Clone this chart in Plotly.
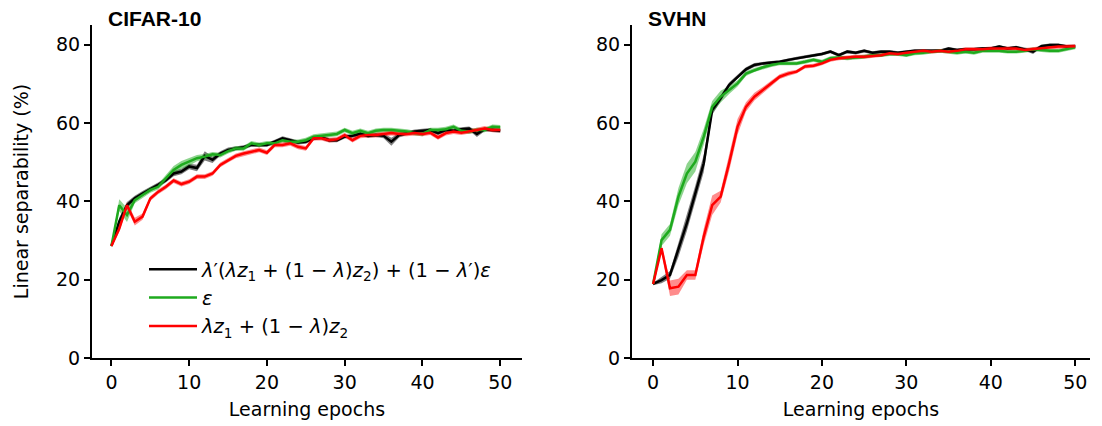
import plotly.graph_objects as go

epochs = list(range(51))

# CIFAR-10 (left panel)
cifar_mix = [28.6, 34.8, 39.0, 40.8, 42.0, 43.0, 44.2, 45.4, 47.1, 47.6,
             48.9, 48.5, 51.6, 50.6, 52.2, 53.1, 53.5, 53.8, 54.4, 54.4,
             54.4, 55.2, 56.1, 55.6, 55.0, 55.2, 56.1, 56.3, 55.6, 55.6,
             56.5, 56.7, 57.2, 56.7, 56.9, 56.7, 55.2, 56.9, 57.4, 57.8,
             58.0, 58.2, 57.4, 58.2, 58.0, 58.4, 58.6, 57.2, 58.4, 58.2, 58.0]
cifar_mix_sd = [0.3, 1.0, 0.8, 0.6, 0.6, 0.6, 0.6, 0.6, 0.7, 0.7,
                0.7, 0.8, 1.2, 0.8, 0.6, 0.6, 0.5, 0.5, 0.5, 0.5,
                0.5, 0.5, 0.5, 0.5, 0.5, 0.5, 0.5, 0.5, 0.5, 0.5,
                0.5, 0.5, 0.5, 0.5, 0.5, 0.6, 1.0, 0.6, 0.5, 0.5,
                0.5, 0.5, 0.5, 0.5, 0.5, 0.5, 0.5, 0.8, 0.5, 0.5, 0.5]
cifar_eps = [28.6, 39.0, 36.5, 40.3, 41.6, 42.9, 43.7, 45.9, 48.0, 49.3,
             50.1, 51.0, 51.4, 52.0, 51.8, 52.8, 53.5, 53.5, 54.8, 54.4,
             54.8, 54.8, 55.6, 55.2, 55.2, 55.6, 56.5, 56.7, 56.9, 57.2,
             58.2, 57.4, 58.0, 57.4, 58.0, 58.2, 58.2, 58.0, 57.8, 57.4,
             57.2, 58.2, 58.2, 58.4, 59.0, 58.0, 57.8, 58.2, 58.2, 59.0, 58.9]
cifar_eps_sd = [0.3, 1.5, 1.8, 0.8, 0.7, 0.7, 0.7, 0.8, 1.0, 1.0,
                1.0, 0.8, 0.7, 0.6, 0.6, 0.6, 0.6, 0.6, 0.6, 0.6,
                0.6, 0.6, 0.6, 0.6, 0.6, 0.6, 0.6, 0.6, 0.6, 0.6,
                0.6, 0.6, 0.6, 0.6, 0.6, 0.6, 0.6, 0.6, 0.6, 0.6,
                0.6, 0.6, 0.6, 0.6, 0.6, 0.6, 0.6, 0.6, 0.6, 0.6, 0.6]
cifar_lin = [28.6, 33.0, 39.0, 34.8, 36.1, 40.7, 42.4, 43.7, 45.3, 44.4,
             45.0, 46.3, 46.3, 47.1, 49.3, 50.5, 51.6, 52.2, 52.6, 53.1,
             52.4, 54.4, 54.4, 54.8, 53.9, 53.5, 56.1, 56.1, 55.6, 55.8,
             56.9, 55.6, 56.7, 56.9, 56.9, 57.2, 57.4, 57.2, 57.2, 57.4,
             57.2, 57.5, 56.3, 57.4, 57.8, 57.5, 57.8, 58.2, 58.6, 58.2, 58.2]
cifar_lin_sd = [0.3, 0.8, 0.8, 1.0, 0.8, 0.6, 0.6, 0.6, 0.6, 0.6,
                0.6, 0.6, 0.6, 0.6, 0.6, 0.6, 0.6, 0.6, 0.6, 0.6,
                0.6, 0.6, 0.6, 0.6, 0.6, 0.6, 0.6, 0.6, 0.6, 0.6,
                0.6, 0.6, 0.6, 0.6, 0.6, 0.6, 0.6, 0.6, 0.6, 0.6,
                0.6, 0.6, 0.6, 0.6, 0.6, 0.6, 0.6, 0.6, 0.6, 0.6, 0.6]

# SVHN (right panel)
svhn_mix = [18.9, 19.9, 21.2, 27.6, 34.4, 42.0, 49.7, 63.3, 66.3, 69.7,
            71.8, 73.7, 74.8, 75.2, 75.4, 75.6, 76.1, 76.5, 76.9, 77.3,
            77.6, 78.2, 77.3, 78.2, 77.9, 78.4, 77.9, 78.2, 78.2, 77.9,
            78.2, 78.4, 78.4, 78.4, 78.4, 79.0, 78.6, 78.8, 78.8, 79.0,
            79.0, 79.5, 79.0, 79.3, 78.8, 78.2, 79.6, 79.9, 79.9, 79.5, 79.6]
svhn_mix_sd = [0.3, 0.8, 1.0, 1.8, 2.0, 2.0, 2.2, 1.2, 0.8, 0.6,
               0.5, 0.5, 0.5, 0.4, 0.4, 0.4, 0.4, 0.4, 0.4, 0.4,
               0.4, 0.4, 0.4, 0.4, 0.4, 0.4, 0.4, 0.4, 0.4, 0.4,
               0.4, 0.4, 0.4, 0.4, 0.4, 0.4, 0.4, 0.4, 0.4, 0.4,
               0.4, 0.4, 0.4, 0.4, 0.4, 0.6, 0.4, 0.4, 0.4, 0.4, 0.4]
svhn_eps = [18.9, 30.1, 32.7, 41.2, 47.1, 50.1, 56.5, 64.1, 66.7, 68.4,
            70.1, 72.6, 73.5, 74.2, 74.8, 75.2, 75.2, 75.2, 75.6, 76.1,
            75.6, 76.5, 76.7, 76.5, 76.7, 76.9, 77.3, 77.3, 77.6, 77.6,
            77.3, 77.8, 77.9, 78.2, 78.4, 78.2, 77.9, 78.2, 77.9, 78.4,
            78.4, 78.4, 78.2, 78.2, 78.4, 78.8, 78.6, 78.4, 78.4, 78.8, 79.3]
svhn_eps_sd = [0.3, 1.5, 1.5, 2.2, 2.5, 2.5, 2.0, 1.5, 1.5, 1.0,
               0.8, 0.6, 0.5, 0.5, 0.5, 0.5, 0.5, 0.5, 0.5, 0.5,
               0.5, 0.5, 0.5, 0.5, 0.5, 0.5, 0.5, 0.5, 0.5, 0.5,
               0.5, 0.5, 0.5, 0.5, 0.5, 0.5, 0.5, 0.5, 0.5, 0.5,
               0.5, 0.5, 0.5, 0.5, 0.5, 0.5, 0.5, 0.5, 0.5, 0.5, 0.5]
svhn_lin = [18.9, 28.0, 17.8, 18.2, 21.2, 21.2, 31.0, 39.0, 41.2, 49.7,
            59.0, 64.1, 66.7, 68.4, 70.1, 71.8, 72.6, 73.1, 74.4, 74.6,
            75.2, 76.1, 76.5, 76.7, 76.9, 76.9, 77.1, 77.3, 77.8, 77.6,
            77.9, 78.2, 78.4, 78.2, 78.4, 78.2, 78.4, 78.8, 78.8, 78.8,
            79.0, 79.0, 79.0, 79.0, 78.6, 78.8, 79.0, 79.3, 79.5, 79.5, 79.6]
svhn_lin_sd = [0.3, 1.0, 2.0, 2.0, 1.2, 1.2, 2.0, 2.5, 1.5, 2.0,
               2.0, 1.2, 1.0, 0.8, 0.6, 0.6, 0.6, 0.5, 0.5, 0.5,
               0.5, 0.5, 0.5, 0.5, 0.5, 0.5, 0.5, 0.5, 0.5, 0.5,
               0.5, 0.5, 0.5, 0.5, 0.5, 0.5, 0.5, 0.5, 0.5, 0.5,
               0.5, 0.5, 0.5, 0.5, 0.5, 0.5, 0.5, 0.5, 0.5, 0.5, 0.5]

names = ["<i>λ</i>′(<i>λz</i><sub>1</sub> + (1 − <i>λ</i>)<i>z</i><sub>2</sub>) + (1 − <i>λ</i>′)<i>ε</i>",
         "<i>ε</i>",
         "<i>λz</i><sub>1</sub> + (1 − <i>λ</i>)<i>z</i><sub>2</sub>"]
colours = ['rgb(0,0,0)', 'rgb(30,170,30)', 'rgb(255,0,0)']
bands = ['rgba(0,0,0,0.5)', 'rgba(30,170,30,0.5)', 'rgba(255,0,0,0.45)']

W, H = 1102, 426
OFF = 8  # the page body margin shifts the figure by 8px
FONT = "DejaVu Sans"


def px(x):
    return (x - OFF) / W


def py(y):
    return 1 - (y - OFF) / H


fig = go.Figure()

panels = [
    ('x', 'y', [(cifar_mix, cifar_mix_sd), (cifar_eps, cifar_eps_sd), (cifar_lin, cifar_lin_sd)]),
    ('x2', 'y2', [(svhn_mix, svhn_mix_sd), (svhn_eps, svhn_eps_sd), (svhn_lin, svhn_lin_sd)]),
]
for p, (xa, ya, series) in enumerate(panels):
    # bands first, then lines on top
    for i, (m, s) in enumerate(series):
        upper = [a + b for a, b in zip(m, s)]
        lower = [a - b for a, b in zip(m, s)]
        fig.add_trace(go.Scatter(
            x=epochs + epochs[::-1], y=upper + lower[::-1],
            fill='toself', fillcolor=bands[i], line=dict(width=0),
            mode='lines', hoverinfo='skip', showlegend=False,
            xaxis=xa, yaxis=ya))
    for i, (m, s) in enumerate(series):
        fig.add_trace(go.Scatter(
            x=epochs, y=m, mode='lines', line=dict(color=colours[i], width=2.5),
            name=names[i], showlegend=(p == 0), xaxis=xa, yaxis=ya))

axis_style = dict(showline=True, linecolor='black', linewidth=2, ticks='outside',
                  ticklen=6, tickwidth=1.8, tickcolor='black', showgrid=False,
                  zeroline=False, automargin=False,
                  tickfont=dict(family=FONT, size=19, color='black'))

ydom = [py(358), py(25)]
fig.update_layout(
    width=W, height=H,
    margin=dict(l=0, r=0, t=0, b=0),
    plot_bgcolor='white', paper_bgcolor='white',
    font=dict(family=FONT, size=19, color='black'),
    xaxis=dict(domain=[px(92), px(522)], range=[-2.5, 52.8], tickvals=[0, 10, 20, 30, 40, 50],
               title=dict(text='Learning epochs', font=dict(family=FONT, size=19), standoff=11),
               anchor='y', **axis_style),
    yaxis=dict(domain=ydom, range=[0, 85], tickvals=[0, 20, 40, 60, 80],
               title=dict(text='Linear separability (%)', font=dict(family=FONT, size=19), standoff=22),
               anchor='x', **axis_style),
    xaxis2=dict(domain=[px(632), px(1090)], range=[-2.5, 51.75], tickvals=[0, 10, 20, 30, 40, 50],
                title=dict(text='Learning epochs', font=dict(family=FONT, size=19), standoff=11),
                anchor='y2', **axis_style),
    yaxis2=dict(domain=ydom, range=[0, 85], tickvals=[0, 20, 40, 60, 80],
                anchor='x2', **axis_style),
    legend=dict(x=px(144), y=py(250), xanchor='left', yanchor='top',
                bgcolor='rgba(0,0,0,0)', font=dict(family=FONT, size=19.5),
                tracegroupgap=0, itemwidth=48),
    annotations=[
        dict(text='<b>CIFAR-10</b>', x=px(106), y=py(18), xref='paper', yref='paper',
             xanchor='left', yanchor='middle', showarrow=False,
             font=dict(family='Liberation Sans', size=21, color='black')),
        dict(text='<b>SVHN</b>', x=px(646), y=py(18), xref='paper', yref='paper',
             xanchor='left', yanchor='middle', showarrow=False,
             font=dict(family='Liberation Sans', size=21, color='black')),
    ],
)

fig.write_html("out.html")
